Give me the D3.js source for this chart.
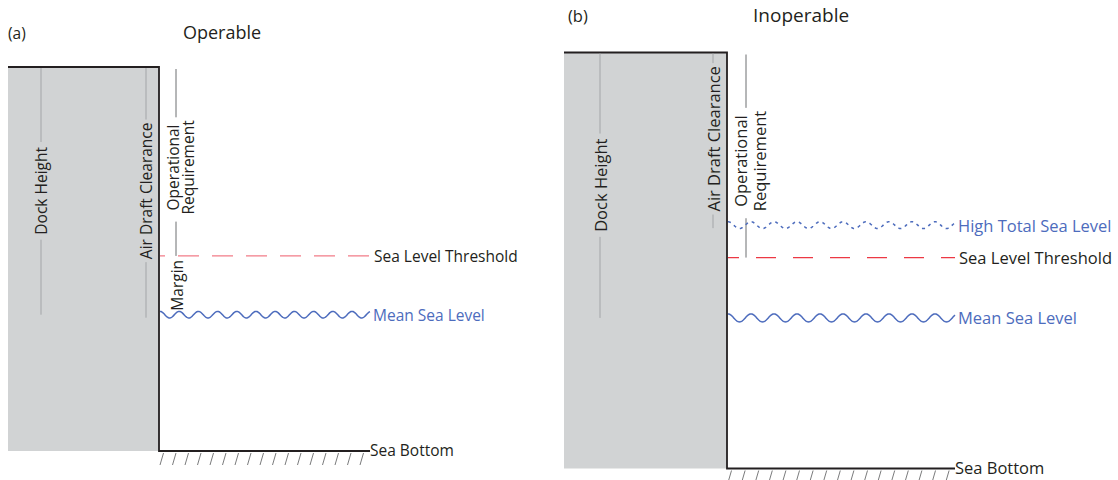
<!DOCTYPE html>
<html>
<head>
<meta charset="utf-8">
<script src="https://cdn.jsdelivr.net/npm/d3@7"></script>
<style>
  html, body { margin: 0; padding: 0; background: #fff; }
  svg { display: block; font-family: "Open Sans", "Noto Sans", sans-serif; }
</style>
</head>
<body>
<svg id="chart" width="1118" height="480"></svg>
<script>
// ---- Data (relative elevations, sea bottom = 0, dock top = 10) ----
const panelIds = ["(a)", "(b)"];
const panelTitles = ["Operable", "Inoperable"];
const seaBottom = [0, 0];
const dockTop = [10, 10];
const seaLevelThreshold = [5.08, 5.07];
const meanSeaLevel = [3.55, 3.62];
const highTotalSeaLevel = [null, 5.85];
const levelNames = ["Sea Level Threshold", "Mean Sea Level", "High Total Sea Level", "Sea Bottom"];
const dimensionNames = ["Dock Height", "Air Draft Clearance", "Operational", "Requirement", "Margin"];

// ---- Layout / style ----
const layout = [
  { left: 8, wall: 159, right: 370, top: 67, bottom: 451, fs: 15.5, titleFs: 18,
    idX: 8, titleX: 183, titleY: 39, dockX: 41, airX: 146, opX: 176, opDx: [-3.5, 12],
    waveAmp: 3.3, waveLen: 19.2, thrColor: "#f27c88", thrDash: "21 13", thrOff: 16,
    hatch: 12.5, labelX: 372 },
  { left: 564, wall: 727, right: 955, top: 52.5, bottom: 468.5, fs: 16.5, titleFs: 19,
    idX: 568, titleX: 753, titleY: 22, dockX: 600, airX: 713, opX: 746, opDx: [-6, 13],
    waveAmp: 4, waveLen: 23, thrColor: "#ec3844", thrDash: "20 17", thrOff: 9,
    hatch: 13.6, labelX: 957 }
];
const BLACK = "#231f20", GRAY_FILL = "#d1d3d4", GUIDE = "#a3a5a8", BLUE = "#4d6cbd";

const svg = d3.select("#chart");

function waveLine(x0, x1, yc, amp, len) {
  const pts = d3.range(x0, x1 + 0.01, 0.5).map(x => [x, yc - amp * Math.cos(2 * Math.PI * (x - x0) / len)]);
  return d3.line()(pts);
}

function rotText(g, x, yc, txt, fs, color) {
  return g.append("text")
    .attr("transform", `translate(${x},${yc}) rotate(-90)`)
    .attr("text-anchor", "middle")
    .attr("dominant-baseline", "central")
    .attr("font-size", fs)
    .attr("fill", color || BLACK)
    .text(txt);
}

function gapLine(g, x, y0, y1, yc, len, pad, color) {
  const a = yc - len / 2 - pad, b = yc + len / 2 + pad;
  if (a > y0) g.append("line").attr("x1", x).attr("x2", x).attr("y1", y0).attr("y2", a)
    .attr("stroke", color).attr("stroke-width", 1);
  if (b < y1) g.append("line").attr("x1", x).attr("x2", x).attr("y1", b).attr("y2", y1)
    .attr("stroke", color).attr("stroke-width", 1);
}

panelIds.forEach((pid, i) => {
  const L = layout[i];
  const g = svg.append("g");
  const y = d3.scaleLinear().domain([seaBottom[i], dockTop[i]]).range([L.bottom, L.top]);

  // titles
  g.append("text").attr("x", L.idX).attr("y", L.titleY).attr("font-size", L.fs).attr("fill", BLACK).text(pid);
  g.append("text").attr("x", L.titleX).attr("y", L.titleY).attr("font-size", L.titleFs).attr("fill", BLACK).text(panelTitles[i]);

  // dock block
  g.append("rect").attr("x", L.left).attr("y", y(dockTop[i]))
    .attr("width", L.wall - L.left).attr("height", y(seaBottom[i]) - y(dockTop[i]))
    .attr("fill", GRAY_FILL);
  g.append("path")
    .attr("d", `M${L.left},${y(dockTop[i])}H${L.wall}V${y(seaBottom[i])}H${L.right}`)
    .attr("fill", "none").attr("stroke", BLACK).attr("stroke-width", 1.8);

  // hatching under sea bottom
  const yb = y(seaBottom[i]);
  d3.range(L.wall + 1, L.right - 2, L.hatch).forEach(hx => {
    g.append("line").attr("x1", hx).attr("y1", yb + 14).attr("x2", hx + 3.5).attr("y2", yb + 2)
      .attr("stroke", "#58595b").attr("stroke-width", 0.8);
  });

  // water level reference for air draft
  const waterLevel = highTotalSeaLevel[i] != null ? highTotalSeaLevel[i] : meanSeaLevel[i];

  // Dock height
  const dTop = y(dockTop[i]), dBot = y(meanSeaLevel[i]);
  const dc = (dTop + dBot) / 2;
  const t1 = rotText(g, L.dockX, dc, dimensionNames[0], L.fs);
  gapLine(g, L.dockX, dTop + 1, dBot, dc, t1.node().getComputedTextLength(), 5, GUIDE);

  // Air draft clearance
  const aBot = y(waterLevel);
  const ac = (dTop + aBot) / 2;
  const t2 = rotText(g, L.airX, ac, dimensionNames[1], L.fs);
  gapLine(g, L.airX, dTop + 1, aBot + 3, ac, t2.node().getComputedTextLength(), 3, GUIDE);

  // Operational requirement
  const oTop = dTop + 2, oBot = y(seaLevelThreshold[i]);
  const oc = (oTop + oBot) / 2 + 5;
  const t3 = rotText(g, L.opX + L.opDx[0], oc, dimensionNames[2], L.fs);
  const t4 = rotText(g, L.opX + L.opDx[1], oc, dimensionNames[3], L.fs);
  const olen = Math.max(t3.node().getComputedTextLength(), t4.node().getComputedTextLength());
  gapLine(g, L.opX, oTop, oBot, oc + 2, olen, 5, "#6d6e71");

  // Margin (only when operable)
  if (highTotalSeaLevel[i] == null) {
    const mc = (y(seaLevelThreshold[i]) + y(meanSeaLevel[i])) / 2;
    rotText(g, L.opX + 1, mc, dimensionNames[4], L.fs);
  }

  // Sea level threshold
  const yt = y(seaLevelThreshold[i]);
  g.append("line").attr("x1", L.wall + 1).attr("x2", L.right).attr("y1", yt).attr("y2", yt)
    .attr("stroke", L.thrColor).attr("stroke-width", 1.3)
    .attr("stroke-dasharray", L.thrDash).attr("stroke-dashoffset", L.thrOff);
  g.append("text").attr("x", L.labelX + 2).attr("y", yt).attr("dominant-baseline", "central")
    .attr("font-size", L.fs).attr("fill", BLACK).text(levelNames[0]);

  // Mean sea level
  const ym = y(meanSeaLevel[i]);
  g.append("path").attr("d", waveLine(L.wall + 1, L.right, ym, L.waveAmp, L.waveLen))
    .attr("fill", "none").attr("stroke", BLUE).attr("stroke-width", 1.5);
  g.append("text").attr("x", L.labelX + 1).attr("y", ym).attr("dominant-baseline", "central")
    .attr("font-size", L.fs).attr("fill", BLUE).text(levelNames[1]);

  // High total sea level
  if (highTotalSeaLevel[i] != null) {
    const yh = y(highTotalSeaLevel[i]);
    g.append("path").attr("d", waveLine(L.wall + 1, L.right, yh, L.waveAmp * 0.85, L.waveLen))
      .attr("fill", "none").attr("stroke", BLUE).attr("stroke-width", 1.5)
      .attr("stroke-dasharray", "3 4");
    g.append("text").attr("x", L.labelX + 1).attr("y", yh).attr("dominant-baseline", "central")
      .attr("font-size", L.fs).attr("fill", BLUE).text(levelNames[2]);
  }

  // Sea bottom label
  g.append("text").attr("x", L.right).attr("y", yb - 1).attr("dominant-baseline", "central")
    .attr("font-size", L.fs).attr("fill", BLACK).text(levelNames[3]);
});
</script>
</body>
</html>
